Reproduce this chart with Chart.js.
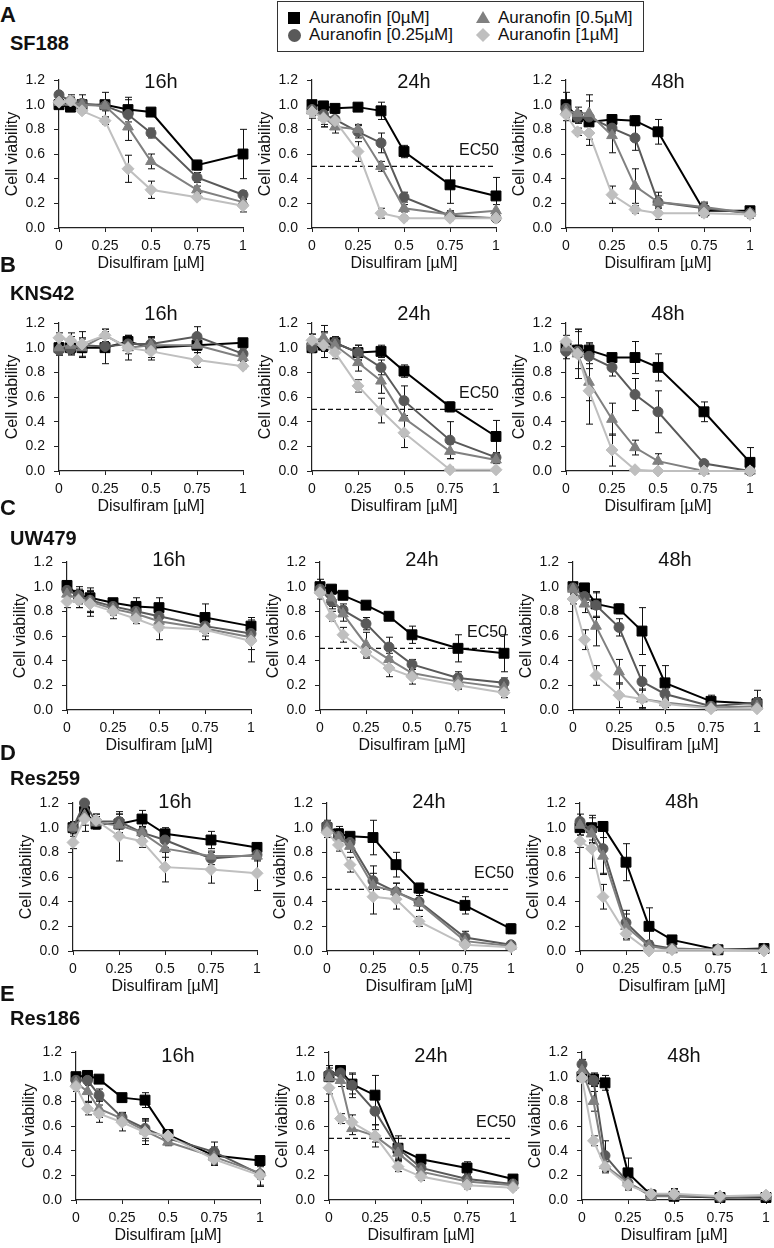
<!DOCTYPE html>
<html>
<head>
<meta charset="utf-8">
<title>Disulfiram / Auranofin viability</title>
<script src="https://cdn.jsdelivr.net/npm/chart.js@4.4.0/dist/chart.umd.min.js"></script>
<style>
  body { margin: 0; background: #fff; }
  #page { position: relative; width: 774px; height: 1248px; overflow: hidden; font-family: "Liberation Sans", Arial, sans-serif; color: #111; }
  .panel { position: absolute; }
  .letter { position: absolute; left: 0; font-size: 22px; font-weight: bold; line-height: 22px; }
  .cell { position: absolute; left: 10px; font-size: 20px; font-weight: bold; line-height: 20px; }
  .legend { position: absolute; left: 277px; top: 1px; width: 367px; height: 51px; border: 1.5px solid #333; box-sizing: border-box; }
  .item { position: absolute; font-size: 17px; line-height: 17px; white-space: nowrap; }
  .mk { position: absolute; }
</style>
</head>
<body>
<div id="page"></div>
<script>
// ---- data ----
const DOSES = [0, 0.0625, 0.125, 0.25, 0.375, 0.5, 0.75, 1];
const X_TICKS = [0, 0.25, 0.5, 0.75, 1];
const Y_TICKS = [0, 0.2, 0.4, 0.6, 0.8, 1.0, 1.2];
const Y_TICK_LABELS = ['0.0', '0.2', '0.4', '0.6', '0.8', '1.0', '1.2'];
const SERIES_LABELS = ['Auranofin [0µM]', 'Auranofin [0.25µM]', 'Auranofin [0.5µM]', 'Auranofin [1µM]'];
const TIMEPOINTS = ['16h', '24h', '48h'];
const CELL_LINES = ['SF188', 'KNS42', 'UW479', 'Res259', 'Res186'];
const ROW_LETTERS = ['A', 'B', 'C', 'D', 'E'];
const EC50_LEVEL = 0.5;

// each panel: [0µM, 0.25µM, 0.5µM, 1µM] viability per dose
const SF188_16h = [
  [1.00, 0.98, 1.00, 1.00, 0.96, 0.94, 0.51, 0.60],
  [1.08, 1.03, 1.01, 0.99, 0.92, 0.77, 0.41, 0.27],
  [1.02, 1.02, 1.00, 0.99, 0.82, 0.54, 0.31, 0.21],
  [1.02, 1.03, 0.95, 0.87, 0.48, 0.31, 0.25, 0.18]
];
const SF188_16h_ERR = [
  [0.02, 0.03, 0.02, 0.10, 0.10, 0.02, 0.04, 0.20],
  [0.02, 0.05, 0.07, 0.04, 0.12, 0.04, 0.04, 0.03],
  [0.02, 0.04, 0.03, 0.03, 0.11, 0.06, 0.03, 0.02],
  [0.03, 0.03, 0.02, 0.03, 0.11, 0.07, 0.02, 0.05]
];
const SF188_24h = [
  [1.00, 0.99, 0.97, 0.98, 0.95, 0.62, 0.35, 0.26],
  [0.96, 0.92, 0.88, 0.78, 0.69, 0.25, 0.10, 0.08],
  [0.95, 0.90, 0.82, 0.80, 0.50, 0.16, 0.11, 0.14],
  [0.94, 0.89, 0.87, 0.62, 0.12, 0.08, 0.08, 0.08]
];
const SF188_24h_ERR = [
  [0.03, 0.03, 0.02, 0.02, 0.07, 0.05, 0.15, 0.15],
  [0.04, 0.10, 0.05, 0.05, 0.08, 0.04, 0.03, 0.02],
  [0.04, 0.08, 0.05, 0.04, 0.04, 0.03, 0.03, 0.05],
  [0.05, 0.05, 0.03, 0.08, 0.04, 0.02, 0.02, 0.02]
];
const SF188_48h = [
  [1.00, 0.90, 0.86, 0.88, 0.87, 0.78, 0.14, 0.14],
  [0.97, 0.90, 0.90, 0.81, 0.73, 0.21, 0.16, 0.12],
  [0.95, 0.93, 0.93, 0.75, 0.34, 0.21, 0.17, 0.12],
  [0.92, 0.78, 0.77, 0.27, 0.15, 0.12, 0.12, 0.11]
];
const SF188_48h_ERR = [
  [0.10, 0.05, 0.02, 0.03, 0.04, 0.10, 0.03, 0.03],
  [0.05, 0.05, 0.18, 0.04, 0.10, 0.08, 0.05, 0.02],
  [0.05, 0.05, 0.10, 0.14, 0.14, 0.05, 0.03, 0.02],
  [0.05, 0.03, 0.10, 0.07, 0.03, 0.05, 0.03, 0.03]
];
const KNS42_16h = [
  [1.00, 1.00, 1.00, 1.00, 1.05, 1.00, 1.02, 1.04],
  [0.98, 0.99, 1.02, 1.01, 1.03, 1.03, 1.09, 0.95],
  [1.00, 1.02, 1.00, 1.10, 1.00, 1.02, 1.02, 0.92],
  [1.08, 1.06, 1.03, 1.10, 1.00, 0.97, 0.90, 0.85]
];
const KNS42_16h_ERR = [
  [0.06, 0.05, 0.08, 0.13, 0.05, 0.08, 0.04, 0.03],
  [0.04, 0.05, 0.05, 0.04, 0.05, 0.06, 0.08, 0.04],
  [0.04, 0.07, 0.04, 0.05, 0.05, 0.06, 0.06, 0.03],
  [0.04, 0.06, 0.10, 0.05, 0.10, 0.07, 0.06, 0.02]
];
const KNS42_24h = [
  [1.00, 1.02, 1.04, 0.96, 0.97, 0.81, 0.52, 0.28],
  [1.00, 1.05, 1.04, 0.96, 0.84, 0.57, 0.25, 0.11],
  [1.05, 1.08, 1.02, 0.88, 0.73, 0.43, 0.16, 0.09],
  [1.06, 1.02, 0.96, 0.69, 0.49, 0.31, 0.01, 0.01]
];
const KNS42_24h_ERR = [
  [0.04, 0.05, 0.03, 0.06, 0.05, 0.05, 0.04, 0.13],
  [0.04, 0.08, 0.05, 0.06, 0.06, 0.12, 0.15, 0.03],
  [0.06, 0.10, 0.05, 0.07, 0.10, 0.15, 0.06, 0.03],
  [0.05, 0.10, 0.05, 0.05, 0.10, 0.12, 0.02, 0.01]
];
const KNS42_48h = [
  [1.00, 0.98, 0.98, 0.92, 0.92, 0.84, 0.48, 0.07],
  [0.97, 0.97, 0.93, 0.84, 0.62, 0.48, 0.06, 0.00],
  [1.00, 0.95, 0.72, 0.42, 0.19, 0.08, 0.00, 0.00],
  [1.05, 0.95, 0.65, 0.17, 0.01, 0.00, 0.00, 0.00]
];
const KNS42_48h_ERR = [
  [0.03, 0.15, 0.06, 0.03, 0.13, 0.11, 0.08, 0.12],
  [0.06, 0.05, 0.10, 0.07, 0.13, 0.17, 0.02, 0.01],
  [0.05, 0.20, 0.15, 0.13, 0.06, 0.06, 0.01, 0.01],
  [0.05, 0.20, 0.27, 0.13, 0.01, 0.01, 0.01, 0.01]
];
const UW479_16h = [
  [1.01, 0.93, 0.91, 0.87, 0.84, 0.83, 0.75, 0.68],
  [0.97, 0.93, 0.89, 0.84, 0.80, 0.76, 0.68, 0.62],
  [0.94, 0.90, 0.88, 0.82, 0.78, 0.72, 0.66, 0.59],
  [0.88, 0.89, 0.86, 0.80, 0.74, 0.67, 0.65, 0.56]
];
const UW479_16h_ERR = [
  [0.03, 0.05, 0.06, 0.03, 0.07, 0.08, 0.11, 0.07],
  [0.04, 0.07, 0.10, 0.05, 0.05, 0.07, 0.06, 0.05],
  [0.04, 0.07, 0.08, 0.05, 0.05, 0.07, 0.06, 0.10],
  [0.05, 0.06, 0.10, 0.06, 0.04, 0.10, 0.08, 0.17]
];
const UW479_24h = [
  [1.00, 0.98, 0.93, 0.85, 0.76, 0.61, 0.50, 0.46],
  [0.98, 0.88, 0.81, 0.70, 0.51, 0.37, 0.26, 0.22],
  [0.97, 0.91, 0.78, 0.53, 0.41, 0.30, 0.23, 0.18],
  [0.95, 0.76, 0.61, 0.47, 0.34, 0.27, 0.20, 0.14]
];
const UW479_24h_ERR = [
  [0.06, 0.03, 0.03, 0.02, 0.03, 0.07, 0.11, 0.15],
  [0.04, 0.06, 0.05, 0.05, 0.08, 0.04, 0.05, 0.04],
  [0.04, 0.07, 0.06, 0.10, 0.05, 0.05, 0.06, 0.03],
  [0.05, 0.04, 0.06, 0.05, 0.07, 0.06, 0.03, 0.04]
];
const UW479_48h = [
  [1.00, 0.99, 0.86, 0.82, 0.64, 0.22, 0.07, 0.05],
  [0.99, 0.92, 0.85, 0.67, 0.23, 0.13, 0.03, 0.06],
  [0.98, 0.86, 0.68, 0.31, 0.09, 0.06, 0.02, 0.03],
  [0.90, 0.57, 0.28, 0.12, 0.09, 0.05, 0.01, 0.01]
];
const UW479_48h_ERR = [
  [0.03, 0.03, 0.10, 0.04, 0.19, 0.14, 0.05, 0.11],
  [0.04, 0.05, 0.10, 0.07, 0.13, 0.04, 0.03, 0.04],
  [0.05, 0.07, 0.16, 0.10, 0.08, 0.04, 0.02, 0.02],
  [0.04, 0.08, 0.08, 0.10, 0.07, 0.03, 0.01, 0.01]
];
const RES259_16h = [
  [1.00, 1.13, 1.03, 1.03, 1.07, 0.95, 0.90, 0.84],
  [1.00, 1.20, 1.05, 1.05, 0.96, 0.90, 0.75, 0.78],
  [1.00, 1.10, 1.04, 1.02, 0.96, 0.83, 0.77, 0.77],
  [0.88, 1.07, 1.06, 0.93, 0.89, 0.68, 0.66, 0.63]
];
const RES259_16h_ERR = [
  [0.05, 0.06, 0.03, 0.08, 0.07, 0.05, 0.07, 0.03],
  [0.04, 0.05, 0.06, 0.06, 0.05, 0.06, 0.05, 0.04],
  [0.04, 0.08, 0.05, 0.06, 0.05, 0.07, 0.04, 0.04],
  [0.05, 0.10, 0.05, 0.20, 0.05, 0.12, 0.11, 0.14]
];
const RES259_24h = [
  [1.00, 0.95, 0.93, 0.92, 0.70, 0.51, 0.37, 0.18],
  [1.02, 0.93, 0.88, 0.57, 0.48, 0.40, 0.11, 0.05],
  [1.00, 0.92, 0.85, 0.53, 0.48, 0.39, 0.08, 0.04],
  [0.96, 0.86, 0.70, 0.44, 0.42, 0.24, 0.05, 0.03]
];
const RES259_24h_ERR = [
  [0.04, 0.06, 0.03, 0.14, 0.10, 0.04, 0.07, 0.04],
  [0.04, 0.06, 0.05, 0.12, 0.07, 0.07, 0.05, 0.02],
  [0.04, 0.06, 0.05, 0.10, 0.07, 0.06, 0.03, 0.02],
  [0.04, 0.05, 0.06, 0.14, 0.08, 0.04, 0.02, 0.02]
];
const RES259_48h = [
  [1.00, 1.00, 1.01, 0.72, 0.20, 0.09, 0.01, 0.02],
  [1.05, 0.98, 0.83, 0.23, 0.05, 0.02, 0.01, 0.01],
  [1.02, 0.95, 0.77, 0.20, 0.04, 0.01, 0.01, 0.01],
  [0.89, 0.83, 0.44, 0.14, 0.00, 0.01, 0.01, 0.00]
];
const RES259_48h_ERR = [
  [0.06, 0.10, 0.04, 0.15, 0.15, 0.03, 0.01, 0.02],
  [0.06, 0.10, 0.20, 0.10, 0.03, 0.02, 0.01, 0.01],
  [0.05, 0.08, 0.15, 0.10, 0.03, 0.02, 0.01, 0.01],
  [0.05, 0.16, 0.10, 0.05, 0.01, 0.01, 0.01, 0.01]
];
const RES186_16h = [
  [1.00, 1.01, 0.98, 0.83, 0.81, 0.53, 0.36, 0.32],
  [0.97, 0.97, 0.85, 0.67, 0.58, 0.50, 0.39, 0.21],
  [0.95, 0.88, 0.74, 0.66, 0.56, 0.47, 0.35, 0.22],
  [0.92, 0.74, 0.70, 0.63, 0.55, 0.52, 0.33, 0.20]
];
const RES186_16h_ERR = [
  [0.02, 0.02, 0.03, 0.03, 0.06, 0.04, 0.07, 0.03],
  [0.05, 0.04, 0.05, 0.04, 0.08, 0.04, 0.08, 0.10],
  [0.04, 0.08, 0.07, 0.05, 0.08, 0.03, 0.05, 0.05],
  [0.04, 0.05, 0.07, 0.07, 0.10, 0.04, 0.05, 0.08]
];
const RES186_24h = [
  [1.00, 1.05, 0.94, 0.85, 0.42, 0.33, 0.26, 0.17],
  [1.02, 1.03, 0.93, 0.72, 0.42, 0.26, 0.17, 0.13],
  [0.99, 0.97, 0.58, 0.52, 0.38, 0.23, 0.15, 0.12],
  [0.91, 0.66, 0.63, 0.52, 0.27, 0.19, 0.12, 0.10]
];
const RES186_24h_ERR = [
  [0.04, 0.03, 0.08, 0.16, 0.08, 0.03, 0.05, 0.03],
  [0.05, 0.04, 0.10, 0.11, 0.10, 0.04, 0.04, 0.02],
  [0.10, 0.05, 0.05, 0.05, 0.05, 0.03, 0.03, 0.02],
  [0.05, 0.04, 0.06, 0.09, 0.04, 0.03, 0.03, 0.02]
];
const RES186_48h = [
  [1.00, 0.98, 0.95, 0.22, 0.04, 0.03, 0.02, 0.02],
  [1.10, 0.97, 0.36, 0.14, 0.04, 0.04, 0.02, 0.03],
  [1.05, 0.80, 0.28, 0.14, 0.03, 0.03, 0.03, 0.03],
  [0.99, 0.48, 0.27, 0.12, 0.05, 0.05, 0.03, 0.04]
];
const RES186_48h_ERR = [
  [0.03, 0.05, 0.06, 0.12, 0.04, 0.06, 0.02, 0.02],
  [0.04, 0.05, 0.12, 0.04, 0.03, 0.05, 0.02, 0.02],
  [0.04, 0.08, 0.06, 0.05, 0.03, 0.04, 0.02, 0.02],
  [0.03, 0.04, 0.04, 0.04, 0.03, 0.04, 0.02, 0.02]
];

const PANELS = [
  [[SF188_16h, SF188_16h_ERR], [SF188_24h, SF188_24h_ERR], [SF188_48h, SF188_48h_ERR]],
  [[KNS42_16h, KNS42_16h_ERR], [KNS42_24h, KNS42_24h_ERR], [KNS42_48h, KNS42_48h_ERR]],
  [[UW479_16h, UW479_16h_ERR], [UW479_24h, UW479_24h_ERR], [UW479_48h, UW479_48h_ERR]],
  [[RES259_16h, RES259_16h_ERR], [RES259_24h, RES259_24h_ERR], [RES259_48h, RES259_48h_ERR]],
  [[RES186_16h, RES186_16h_ERR], [RES186_24h, RES186_24h_ERR], [RES186_48h, RES186_48h_ERR]]
];

// ---- layout / style ----
const FONT = '"Liberation Sans", Arial, sans-serif';
const SERIES_STYLE = [
  { color: '#000000', pointStyle: 'rect', radius: 7 },
  { color: '#595959', pointStyle: 'circle', radius: 5 },
  { color: '#808080', pointStyle: 'triangle', radius: 6.2 },
  { color: '#bfbfbf', pointStyle: 'rectRot', radius: 6 }
];
// plot area top (y=1.2) and left edges (x=0) per row
const ROW_LAYOUT = [
  { top: 80,   lefts: [59, 312, 566], letterY: 4,   nameY: 33,   titleDy: 2 },
  { top: 323,  lefts: [59, 312, 566], letterY: 254, nameY: 283,  titleDy: -9 },
  { top: 562,  lefts: [67, 320, 573], letterY: 497, nameY: 528,  titleDy: -2 },
  { top: 803,  lefts: [73, 327, 580], letterY: 742, nameY: 768,  titleDy: -1 },
  { top: 1052, lefts: [76, 329, 582], letterY: 983, nameY: 1008, titleDy: 4 }
];
const PLOT_W = 184, PLOT_H = 148;
const PAD_LEFT = 60, PAD_TOP = 24, PAD_RIGHT = 16, PAD_BOTTOM = 46;

Chart.defaults.font.family = FONT;
Chart.defaults.color = '#111';

const errorBars = {
  id: 'errorBars',
  beforeDatasetsDraw(chart) {
    const { ctx, chartArea, scales: { x, y } } = chart;
    ctx.save();
    ctx.beginPath();
    ctx.rect(chartArea.left - 10, chartArea.top - 4, chartArea.width + 20, chartArea.height + 4);
    ctx.clip();
    ctx.strokeStyle = '#111';
    ctx.lineWidth = 1;
    chart.data.datasets.forEach(ds => {
      if (!ds.errors) return;
      ds.data.forEach((pt, i) => {
        const e = ds.errors[i];
        if (!e) return;
        const px = Math.round(x.getPixelForValue(pt.x)) + 0.5;
        const y1 = y.getPixelForValue(pt.y + e);
        const y2 = y.getPixelForValue(pt.y - e);
        ctx.beginPath();
        ctx.moveTo(px, y1); ctx.lineTo(px, y2);
        ctx.moveTo(px - 3.5, y1); ctx.lineTo(px + 3.5, y1);
        ctx.moveTo(px - 3.5, y2); ctx.lineTo(px + 3.5, y2);
        ctx.stroke();
      });
    });
    ctx.restore();
  }
};

const panelText = {
  id: 'panelText',
  afterDraw(chart, args, opts) {
    const { ctx, chartArea, scales: { y } } = chart;
    ctx.save();
    ctx.fillStyle = '#111';
    ctx.font = '20px ' + FONT;
    ctx.textAlign = 'center';
    ctx.textBaseline = 'middle';
    ctx.fillText(opts.title, (chartArea.left + chartArea.right) / 2 + 10, chartArea.top + opts.titleDy);
    if (opts.ec50) {
      ctx.font = '16px ' + FONT;
      ctx.textAlign = 'right';
      ctx.fillText('EC50', chartArea.right + 3, y.getPixelForValue(EC50_LEVEL) - 16);
    }
    ctx.restore();
  }
};

function axisBase() {
  return {
    grid: { drawOnChartArea: false, drawTicks: true, color: '#222', lineWidth: 1 },
    border: { color: '#222', width: 1.2 }
  };
}

function buildPanel(page, row, col) {
  const lay = ROW_LAYOUT[row];
  const [values, errors] = PANELS[row][col];
  const W = PAD_LEFT + PLOT_W + PAD_RIGHT;
  const H = PAD_TOP + PLOT_H + PAD_BOTTOM;

  const box = document.createElement('div');
  box.className = 'panel';
  box.style.left = (lay.lefts[col] - PAD_LEFT) + 'px';
  box.style.top = (lay.top - PAD_TOP) + 'px';
  const canvas = document.createElement('canvas');
  canvas.width = W;
  canvas.height = H;
  box.appendChild(canvas);
  page.appendChild(box);

  const datasets = values.map((vals, s) => ({
    label: SERIES_LABELS[s],
    data: vals.map((v, i) => ({ x: DOSES[i], y: v })),
    errors: errors[s],
    borderColor: SERIES_STYLE[s].color,
    backgroundColor: SERIES_STYLE[s].color,
    pointBackgroundColor: SERIES_STYLE[s].color,
    pointBorderColor: SERIES_STYLE[s].color,
    pointStyle: SERIES_STYLE[s].pointStyle,
    pointRadius: SERIES_STYLE[s].radius,
    pointBorderWidth: 1,
    borderWidth: 2,
    tension: 0,
    clip: false,
    order: 4 - s
  }));

  const isEc50 = TIMEPOINTS[col] === '24h';
  if (isEc50) {
    datasets.push({
      label: 'EC50',
      data: [{ x: 0, y: EC50_LEVEL }, { x: 1, y: EC50_LEVEL }],
      borderColor: '#111',
      borderWidth: 1.2,
      borderDash: [5, 3],
      pointRadius: 0,
      order: 10
    });
  }

  new Chart(canvas, {
    type: 'line',
    data: { datasets },
    options: {
      responsive: false,
      animation: false,
      layout: { padding: { left: 0, top: PAD_TOP, right: PAD_RIGHT, bottom: 0 } },
      plugins: {
        legend: { display: false },
        tooltip: { enabled: false },
        panelText: { title: TIMEPOINTS[col], titleDy: lay.titleDy, ec50: isEc50 }
      },
      scales: {
        x: {
          ...axisBase(),
          type: 'linear',
          min: 0,
          max: 1,
          afterFit: s => { s.height = PAD_BOTTOM; },
          afterBuildTicks: s => { s.ticks = X_TICKS.map(v => ({ value: v })); },
          grid: { ...axisBase().grid, tickLength: 4 },
          ticks: { padding: 6, maxRotation: 0, autoSkip: false, font: { size: 14 }, callback: v => String(v) },
          title: { display: true, text: 'Disulfiram [µM]', font: { size: 16 }, padding: { top: 0, bottom: 1 } }
        },
        y: {
          ...axisBase(),
          min: 0,
          max: 1.2,
          afterFit: s => { s.width = PAD_LEFT; },
          afterBuildTicks: s => { s.ticks = Y_TICKS.map(v => ({ value: v })); },
          grid: { ...axisBase().grid, tickLength: 5 },
          ticks: { padding: 9, font: { size: 14 }, callback: (v, i) => Y_TICK_LABELS[i] },
          title: { display: true, text: 'Cell viability', font: { size: 16 }, padding: { top: 4, bottom: 0 } }
        }
      }
    },
    plugins: [errorBars, panelText]
  });
}

function buildLegend(page) {
  const lg = document.createElement('div');
  lg.className = 'legend';
  page.appendChild(lg);
  const spots = [
    { mx: 16, tx: 31, y: 16 },
    { mx: 16, tx: 31, y: 33 },
    { mx: 205, tx: 220, y: 16 },
    { mx: 205, tx: 220, y: 33 }
  ];
  SERIES_LABELS.forEach((label, s) => {
    const p = spots[s];
    const mk = document.createElement('div');
    mk.className = 'mk';
    const c = SERIES_STYLE[s].color;
    if (s === 0) {
      Object.assign(mk.style, { width: '12px', height: '12px', background: c, left: (p.mx - 6) + 'px', top: (p.y - 6) + 'px' });
    } else if (s === 1) {
      Object.assign(mk.style, { width: '13px', height: '13px', background: c, borderRadius: '50%', left: (p.mx - 6.5) + 'px', top: (p.y - 6.5) + 'px' });
    } else if (s === 2) {
      Object.assign(mk.style, { width: '0', height: '0', borderLeft: '7px solid transparent', borderRight: '7px solid transparent', borderBottom: '12px solid ' + c, left: (p.mx - 7) + 'px', top: (p.y - 7) + 'px' });
    } else {
      Object.assign(mk.style, { width: '10px', height: '10px', background: c, transform: 'rotate(45deg)', left: (p.mx - 5) + 'px', top: (p.y - 5) + 'px' });
    }
    lg.appendChild(mk);
    const tx = document.createElement('div');
    tx.className = 'item';
    tx.textContent = label;
    tx.style.left = p.tx + 'px';
    tx.style.top = (p.y - 9) + 'px';
    lg.appendChild(tx);
  });
}

const page = document.getElementById('page');
buildLegend(page);
CELL_LINES.forEach((name, row) => {
  const lay = ROW_LAYOUT[row];
  const letter = document.createElement('div');
  letter.className = 'letter';
  letter.textContent = ROW_LETTERS[row];
  letter.style.top = lay.letterY + 'px';
  page.appendChild(letter);
  const cell = document.createElement('div');
  cell.className = 'cell';
  cell.textContent = name;
  cell.style.top = lay.nameY + 'px';
  page.appendChild(cell);
  TIMEPOINTS.forEach((tp, col) => buildPanel(page, row, col));
});
</script>
</body>
</html>
